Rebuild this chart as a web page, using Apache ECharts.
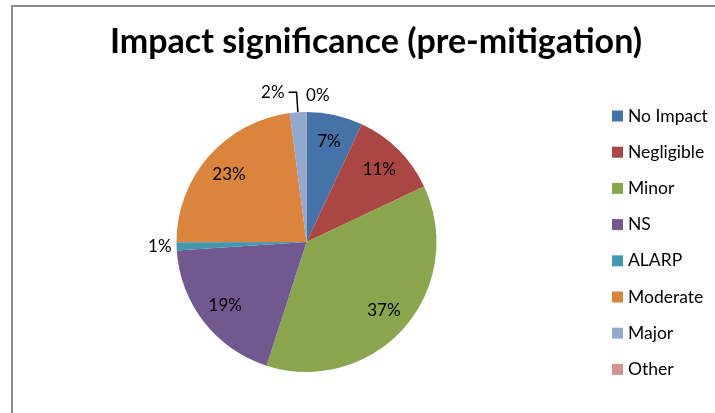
<!DOCTYPE html>
<html>
<head>
<meta charset="utf-8">
<script src="https://cdn.jsdelivr.net/npm/echarts@6/dist/echarts.min.js"></script>
<style>
html,body{margin:0;padding:0;background:#fff;}
#c{width:715px;height:413px;}
</style>
</head>
<body>
<div id="c"></div>
<script>
const categories = ['No Impact','Negligible','Minor','NS','ALARP','Moderate','Major','Other'];
const values = [7, 11, 37, 19, 1, 23, 2, 0];
const colors = ['#4572A7','#AA4643','#89A54E','#71588F','#4198AF','#DB843D','#93A9CF','#D19392'];
const outsideItems = ['ALARP','Major','Other'];

const FONT = 'Lato';
const chart = echarts.init(document.getElementById('c'));

const mainData = categories.map((n, i) => ({ name: n, value: values[i], itemStyle: { color: colors[i] } }));
const labelData = categories.map((n, i) => {
  const o = { name: n, value: values[i] };
  if (outsideItems.includes(n)) {
    o.label = { show: false };
  }
  return o;
});

const outsideLabelCfg = {
  'ALARP': { label: { show: true, position: 'outside', distanceToLabelLine: 2 }, labelLine: { show: false, length: 3, length2: 0 } },
  'Major': { label: { show: true, position: 'outside', distanceToLabelLine: 4 }, labelLine: { show: true, length: 20, length2: 8, lineStyle: { color: '#000', width: 1.5 } } },
  'Other': { label: { show: true, position: 'outside', distanceToLabelLine: 2 }, labelLine: { show: false, length: 8, length2: 0 } }
};
mainData.forEach(d => { if (outsideLabelCfg[d.name]) Object.assign(d, outsideLabelCfg[d.name]); });

const otherIndex = categories.indexOf('Other');

chart.setOption({
  animation: false,
  backgroundColor: '#fff',
  title: {
    text: 'Impact significance (pre-mitigation)',
    left: 105,
    top: 20,
    textStyle: { fontFamily: FONT, fontWeight: 'bold', fontSize: 34, color: '#000' }
  },
  legend: {
    orient: 'vertical',
    left: 612,
    top: 107,
    padding: 0,
    itemWidth: 11,
    itemHeight: 11,
    itemGap: 18.2,
    icon: 'rect',
    textStyle: { fontFamily: FONT, fontSize: 17.5, color: '#000' },
    data: categories
  },
  graphic: [{
    type: 'rect',
    shape: { x: 12, y: 6, width: 800, height: 500 },
    style: { fill: 'none', stroke: '#8c8c8c', lineWidth: 2 },
    silent: true
  }],
  series: [{
    type: 'pie',
    center: [306.5, 242],
    radius: [0, 130],
    startAngle: 90,
    clockwise: true,
    minAngle: 0.2,
    avoidLabelOverlap: false,
    data: mainData,
    label: { show: false, formatter: '{c}%', fontFamily: FONT, fontSize: 17, color: '#000' },
    labelLine: { show: false },
    labelLayout: function (p) {
      if (p.dataIndex === otherIndex) {
        return { x: p.rect.x, y: p.rect.y - 16, align: 'left', verticalAlign: 'middle' };
      }
    },
    emphasis: { disabled: true }
  }, {
    type: 'pie',
    center: [306.5, 242],
    radius: [70, 130],
    startAngle: 90,
    clockwise: true,
    minAngle: 0.2,
    silent: true,
    avoidLabelOverlap: false,
    itemStyle: { color: 'rgba(0,0,0,0)' },
    data: labelData,
    label: { show: true, position: 'inside', formatter: '{c}%', fontFamily: FONT, fontSize: 17, color: '#000' },
    labelLine: { show: false },
    emphasis: { disabled: true }
  }]
});
</script>
</body>
</html>
